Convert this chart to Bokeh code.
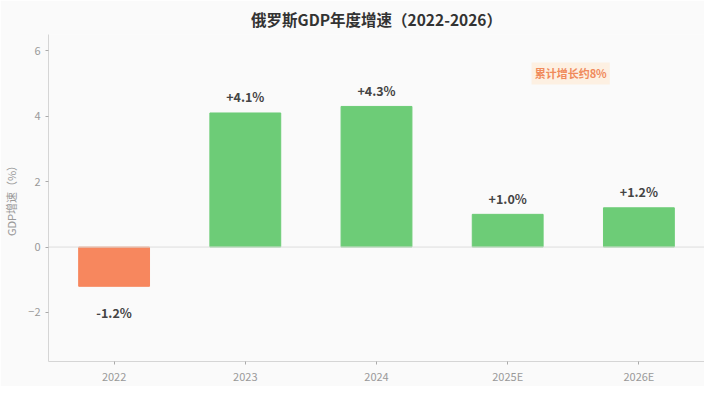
from bokeh.plotting import figure
from bokeh.models import ColumnDataSource, Label, Span, Range1d, LabelSet
from bokeh.embed import file_html
from bokeh.resources import INLINE
from bokeh.core.properties import value

years = ["2022", "2023", "2024", "2025E", "2026E"]
growth = [-1.2, 4.1, 4.3, 1.0, 1.2]
labels = ["-1.2%", "+4.1%", "+4.3%", "+1.0%", "+1.2%"]
note = "累计增长约8%"
title = "俄罗斯GDP年度增速（2022-2026）"

FONT = "Noto Sans CJK SC"
colors = ["#f7875e" if g < 0 else "#6dcc77" for g in growth]
label_y = [g + 0.5 if g >= 0 else g - 0.8 for g in growth]

src = ColumnDataSource(dict(x=years, top=growth, color=colors, lab=labels, ly=label_y))

p = figure(x_range=years, y_range=Range1d(-3.5, 6.5), width=704, height=386,
           output_backend="svg", toolbar_location=None,
           min_border_left=0, min_border_right=0, min_border_top=0, min_border_bottom=0)
p.title.text = title
p.title.align = "center"
p.title.text_font = FONT
p.title.text_font_size = "15.5px"
p.title.text_color = "#333333"
p.title.text_font_style = "bold"

p.background_fill_color = "#fafafa"
p.border_fill_color = "#fafafa"
p.outline_line_color = None
p.grid.visible = False

p.vbar(x="x", top="top", bottom=0, width=0.54, color="color", source=src)
p.add_layout(Span(location=0, dimension="width", line_color="#dddddd", line_width=1))

p.add_layout(LabelSet(x="x", y="ly", text="lab", source=src, text_align="center",
                      text_baseline="middle", text_font=value(FONT), text_font_size="12.5px",
                      text_font_style="bold", text_color="#444444"))

p.add_layout(Label(x=3.98, y=5.31, text=note, text_align="center", text_baseline="middle",
                   text_font=FONT, text_font_size="11px", text_font_style="bold",
                   text_color="#f08a5b", background_fill_color="#fdeedf",
                   background_fill_alpha=0.9, padding=3))

for ax in (p.xaxis, p.yaxis):
    ax.axis_line_color = "#d5d5d5"
    ax.major_tick_line_color = "#aaaaaa"
    ax.minor_tick_line_color = None
    ax.major_label_text_color = "#999999"
    ax.major_label_text_font = FONT
    ax.major_label_text_font_size = "11px"
    ax.major_tick_out = 3
    ax.major_tick_in = 0

p.yaxis.ticker = [-2, 0, 2, 4, 6]
p.yaxis.axis_label = "GDP增速（%）"
p.yaxis.axis_label_text_font = FONT
p.yaxis.axis_label_text_font_size = "11px"
p.yaxis.axis_label_text_font_style = "normal"
p.yaxis.axis_label_text_color = "#999999"
p.yaxis.axis_label_standoff = 6
p.xaxis.major_label_standoff = 3
p.xaxis.axis_label_standoff = 0
p.xaxis.major_label_text_line_height = 0.9

open("out.html", "w").write(file_html(p, INLINE))
